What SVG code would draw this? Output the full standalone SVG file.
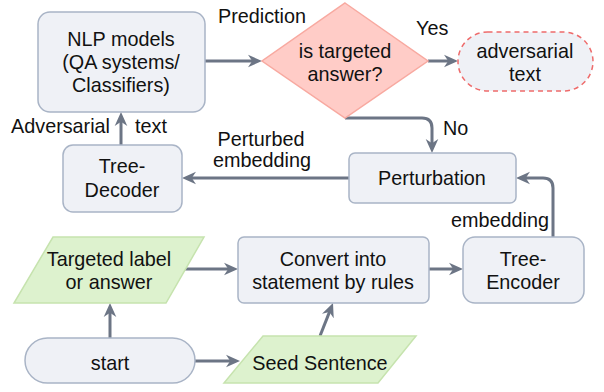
<svg xmlns="http://www.w3.org/2000/svg" width="604" height="392" viewBox="0 0 604 392">
<defs>
<style>
text{font-family:"Liberation Sans",Arial,Helvetica,sans-serif;font-size:19.8px;fill:#111;}
.c{text-anchor:middle;}
.box{fill:#EFF1F6;stroke:#A9B4C6;stroke-width:1.5;}
.green{fill:#DDF2CE;stroke:#C6E3AE;stroke-width:1.5;}
.edge{fill:none;stroke:#6C7585;stroke-width:3;marker-end:url(#ah);}
</style>
<marker id="ah" viewBox="0 0 10 10" markerWidth="14" markerHeight="14" markerUnits="userSpaceOnUse" refX="5.7" refY="5" orient="auto">
<path d="M0,0.5 L10,5 L0,9.5 L3,5 z" fill="#6C7585"/>
</marker>
</defs>
<rect width="604" height="392" fill="#fff"/>
<g id="connectors">
<path class="edge" d="M205,61 L256,61"/>
<path class="edge" d="M428,61 L452,61"/>
<path class="edge" d="M345,118 L422,118 Q432,118 432,128 L432,147"/>
<path class="edge" d="M349,178 L188,178"/>
<path class="edge" d="M121,145 L121,118"/>
<path class="edge" d="M553,237 L553,188 Q553,178 543,178 L522,178"/>
<path class="edge" d="M429,269 L457,269"/>
<path class="edge" d="M185,269 L232,269"/>
<path class="edge" d="M110,338 L110,309"/>
<path class="edge" d="M195,361 L234,361"/>
<path class="edge" d="M320,336 L330.8,308.6"/>
</g>
<g id="edge-labels">
<text x="218" y="23">Prediction</text>
<text x="416" y="35">Yes</text>
<text x="443" y="135">No</text>
<text x="110" y="133" text-anchor="end">Adversarial</text>
<text x="135" y="133">text</text>
<text class="c" x="261" y="146">Perturbed</text>
<text class="c" x="262" y="167">embedding</text>
<text x="549" y="227" text-anchor="end">embedding</text>
</g>
<g id="nlp">
<rect class="box" x="38" y="12" width="167" height="100" rx="12"/>
<text class="c" x="121" y="46">NLP models</text>
<text class="c" x="121" y="69">(QA systems/</text>
<text class="c" x="121" y="92">Classifiers)</text>
</g>
<g id="decision">
<path d="M345,3 L428,61 L345,118 L262,61 z" fill="#FFCCC7" stroke="#F8A9A0" stroke-width="1.5"/>
<text class="c" x="345" y="58">is targeted</text>
<text class="c" x="345" y="81">answer?</text>
</g>
<g id="adversarial-text">
<rect x="458" y="32" width="135" height="59" rx="29.5" fill="#EFF1F6" stroke="#EE6B6B" stroke-width="1.5" stroke-dasharray="5 4"/>
<text class="c" x="525" y="58">adversarial</text>
<text class="c" x="525" y="81">text</text>
</g>
<g id="tree-decoder">
<rect class="box" x="63" y="145" width="119" height="67" rx="10"/>
<text class="c" x="122" y="173">Tree-</text>
<text class="c" x="122" y="197">Decoder</text>
</g>
<g id="perturbation">
<rect class="box" x="349" y="153" width="167" height="50" rx="6"/>
<text class="c" x="432" y="185">Perturbation</text>
</g>
<g id="tree-encoder">
<rect class="box" x="463" y="237" width="121" height="66" rx="12"/>
<text class="c" x="523" y="266">Tree-</text>
<text class="c" x="523" y="289">Encoder</text>
</g>
<g id="convert">
<rect class="box" x="238" y="237" width="191" height="66" rx="6"/>
<text class="c" x="333" y="266">Convert into</text>
<text class="c" x="333" y="289">statement by rules</text>
</g>
<g id="targeted">
<path class="green" d="M53,237 L204,237 L166,303 L14,303 z"/>
<text class="c" x="109" y="266">Targeted label</text>
<text class="c" x="109" y="289">or answer</text>
</g>
<g id="start">
<rect class="box" x="25" y="338" width="170" height="45" rx="22.5"/>
<text class="c" x="110" y="370">start</text>
</g>
<g id="seed">
<path class="green" d="M263,336 L416,336 L378,383 L224,383 z"/>
<text class="c" x="320" y="370">Seed Sentence</text>
</g>
</svg>
